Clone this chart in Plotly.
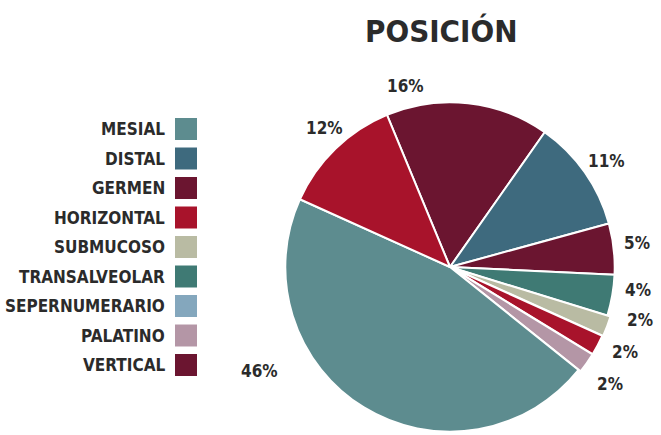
import math
import plotly.graph_objects as go

# Pie slices (clockwise from the top-left edge of the 16% slice)
slice_labels = ["GERMEN", "DISTAL", "VERTICAL", "TRANSALVEOLAR", "SUBMUCOSO",
                "HORIZONTAL 2", "PALATINO", "MESIAL", "HORIZONTAL"]
slice_values = [16, 11, 5, 4, 2, 2, 2, 46, 12]
slice_colors = ["#6b1530", "#3e6a7e", "#6b1530", "#3f7a74", "#b9bba3",
                "#a8132b", "#b496a6", "#5d8c8f", "#a8132b"]
slice_pull = [0, 0, 0, 0, 0.02, 0.015, 0.015, 0, 0]

# Legend entries
legend_labels = ["MESIAL", "DISTAL", "GERMEN", "HORIZONTAL", "SUBMUCOSO",
                 "TRANSALVEOLAR", "SEPERNUMERARIO", "PALATINO", "VERTICAL"]
legend_colors = ["#5d8c8f", "#3e6a7e", "#6b1530", "#a8132b", "#b9bba3",
                 "#3f7a74", "#84a7bd", "#b496a6", "#6b1530"]

# label placement tweaks (angle shift in degrees, distance from centre in px)
label_shift = [-20, 1, -1, -3, -5, -2, 1, 30, 2]
label_dist = [186, 189, 189, 189, 197, 195, 198, 217, 187]

FONT = "DejaVu Sans Condensed, Roboto Condensed, Liberation Sans Narrow, DejaVu Sans, sans-serif"
TXT = "#2b2b2b"
W, H = 661, 435
CX, CY, R = 450, 267, 166
ROT = -22.5

fig = go.Figure()
fig.add_trace(go.Pie(
    labels=slice_labels,
    values=slice_values,
    textinfo="none",
    sort=False,
    direction="clockwise",
    rotation=ROT,
    pull=slice_pull,
    marker=dict(colors=slice_colors, line=dict(color="white", width=2)),
    hoverinfo="label+percent",
    showlegend=False,
    domain=dict(x=[(CX - 168) / W, (CX + 168) / W],
                y=[0, 336 / H]),
))

annotations = []
shapes = []

# percentage labels, placed around the slice mid-angles
total = sum(slice_values)
cum = 0
for v, sh, d in zip(slice_values, label_shift, label_dist):
    mid = ROT + (cum + v / 2) / total * 360 + sh
    cum += v
    a = math.radians(mid)
    px = CX + d * math.sin(a)
    py = CY - d * math.cos(a)
    annotations.append(dict(
        x=px / W, y=1 - py / H, xref="paper", yref="paper",
        xanchor="center", yanchor="middle", showarrow=False,
        text=f"{v}%",
        font=dict(family=FONT, size=17, color=TXT, weight="bold"),
    ))

# custom legend: text right-aligned, swatch on the right
row0, step = 129, 29.5
for i, (lab, col) in enumerate(zip(legend_labels, legend_colors)):
    yc = row0 + i * step
    annotations.append(dict(
        x=167 / W, y=1 - yc / H, xref="paper", yref="paper",
        xanchor="right", yanchor="middle", showarrow=False,
        text=lab,
        font=dict(family=FONT, size=17, color=TXT, weight="bold"),
    ))
    shapes.append(dict(
        type="rect", xref="paper", yref="paper",
        x0=175 / W, x1=197 / W, y0=1 - (yc + 11) / H, y1=1 - (yc - 11) / H,
        fillcolor=col, line=dict(width=0),
    ))

annotations.append(dict(
    x=441 / W, y=1 - 31 / H, xref="paper", yref="paper",
    xanchor="center", yanchor="middle", showarrow=False,
    text="POSICIÓN",
    font=dict(family=FONT, size=31, color=TXT, weight="bold"),
))

fig.update_layout(
    width=W, height=H,
    margin=dict(l=0, r=0, t=0, b=0),
    paper_bgcolor="white", plot_bgcolor="white",
    annotations=annotations, shapes=shapes,
)

fig.write_html("out.html")
